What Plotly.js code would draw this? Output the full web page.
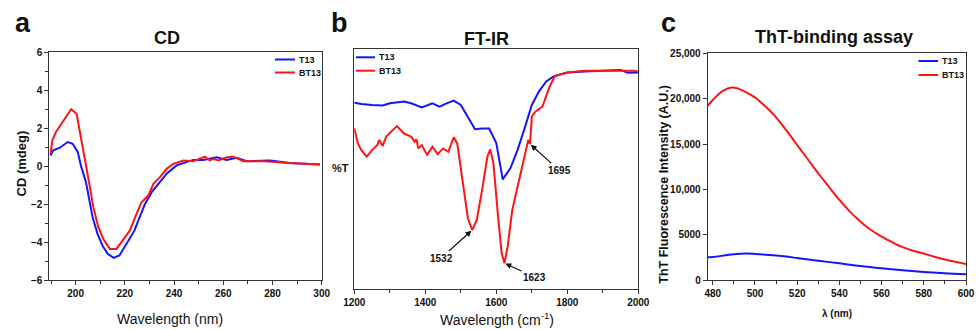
<!DOCTYPE html>
<html>
<head>
<meta charset="utf-8">
<script src="https://cdn.plot.ly/plotly-3.0.1.min.js"></script>
<style>html,body{margin:0;padding:0;background:#fff;}#chart{width:978px;height:330px;}</style>
</head>
<body>
<div id="chart"></div>
<script>
// ---------- Panel a: CD ----------
const cdX_T13 = [189.8, 190.9, 193.6, 196.8, 198.8, 200.9, 202.2, 204.2, 205.6, 206.9, 208.9, 210.9, 213, 215.5, 217.8, 219.8, 221.8, 223.9, 225.5, 228.2, 230.9, 233.6, 237, 241, 245.1, 247.8, 251.9, 257.3, 261.4, 265.4, 269.5, 279, 287, 299.3];
const cdY_T13 = [0.56, 0.83, 0.97, 1.27, 1.18, 0.74, 0, -0.84, -1.8, -2.7, -3.57, -4.18, -4.62, -4.83, -4.71, -4.27, -3.83, -3.4, -2.86, -1.99, -1.37, -0.93, -0.4, 0.04, 0.21, 0.33, 0.33, 0.47, 0.33, 0.44, 0.26, 0.3, 0.16, 0.09];
const cdX_BT13 = [189.8, 190.5, 192, 194, 196, 198.2, 200.4, 202.4, 204.6, 205.8, 207.2, 209.2, 211.3, 213.9, 216.6, 219.3, 222, 224.8, 226.8, 229.5, 231.6, 234.3, 237, 239.7, 243.8, 247.8, 252.6, 254.5, 256, 258, 261.4, 264, 268.2, 276.3, 287, 299.3];
const cdY_BT13 = [0.65, 1.35, 1.8, 2.2, 2.6, 3.0, 2.76, 1.35, -0.05, -1.1, -2.16, -3.2, -3.85, -4.36, -4.36, -3.9, -3.4, -2.5, -1.9, -1.55, -0.93, -0.58, -0.14, 0.12, 0.3, 0.26, 0.5, 0.3, 0.38, 0.3, 0.47, 0.5, 0.26, 0.26, 0.16, 0.09];

// ---------- Panel b: FT-IR ----------
const irX_T13 = [1200, 1220, 1250, 1280, 1300, 1340, 1360, 1390, 1420, 1440, 1460, 1480, 1500, 1520, 1540, 1560, 1580, 1600, 1618, 1640, 1660, 1680, 1700, 1720, 1740, 1760, 1800, 1850, 1900, 1950, 1970, 2000];
const irY_T13 = [77.7, 77.2, 76.8, 76.6, 77.5, 78.2, 77.5, 75.8, 77.5, 76.1, 77.5, 78.6, 76.8, 72, 66.7, 67, 67, 60.9, 45.8, 50.5, 58.1, 67.2, 76.8, 82.4, 86.5, 88.6, 90.3, 90.7, 91.1, 91.4, 90.2, 90.3];
const irX_BT13 = [1200, 1210, 1220, 1235, 1250, 1265, 1270, 1280, 1290, 1320, 1340, 1360, 1370, 1375, 1380, 1390, 1405, 1420, 1435, 1450, 1465, 1480, 1490, 1500, 1510, 1520, 1532, 1545, 1560, 1575, 1583, 1592, 1605, 1615, 1623, 1632, 1645, 1660, 1680, 1690, 1695, 1700, 1710, 1730, 1750, 1765, 1800, 1850, 1900, 1950, 1990, 2000];
const irY_BT13 = [67.1, 60.8, 58.0, 55.3, 58.0, 60.1, 62.2, 59.7, 63.6, 68.0, 64.9, 63.6, 61.5, 62.5, 58.7, 60.1, 56.0, 59.4, 56.3, 58.7, 57.3, 63.3, 60.8, 49.7, 38.6, 29.6, 24.7, 28.9, 41.4, 55.3, 58.3, 52.5, 30.3, 15.0, 10.9, 17.8, 33.1, 42.8, 54.6, 62.2, 60.5, 72.0, 74.0, 76.1, 84.4, 88.9, 90.3, 91.1, 91.1, 91.1, 91.1, 90.7];
const irPeaks = [1532, 1623, 1695];

// ---------- Panel c: ThT ----------
const thtX_T13 = [477.6, 480, 490, 496, 500, 510, 520, 530, 540, 550, 560, 570, 580, 590, 600];
const thtY_T13 = [2530, 2570, 2860, 2940, 2900, 2720, 2455, 2160, 1870, 1570, 1320, 1100, 920, 770, 660];
const thtX_BT13 = [477.6, 480, 485, 489, 492, 495, 500, 505, 510, 515, 520, 525, 530, 535, 540, 545, 550, 555, 560, 565, 570, 575, 580, 585, 590, 595, 600];
const thtY_BT13 = [19200, 19860, 20890, 21220, 21110, 20815, 20150, 19130, 17950, 16480, 14900, 13330, 11780, 10320, 8850, 7560, 6460, 5540, 4810, 4200, 3650, 3250, 2950, 2600, 2300, 2050, 1800];
const thtTickVals = [0, 5000, 10000, 15000, 20000, 25000];
const thtTickText = ['0', '5000', '10,000', '15,000', '20,000', '25,000'];

const seriesNames = ['T13', 'BT13'];

const BLUE = '#1414ff', RED = '#ff1414';
const seriesColors = [BLUE, RED];
const FONT = 'Liberation Sans, Arial, Helvetica, sans-serif';
const W = 978, H = 330;
const px = v => v / W;
const py = v => 1 - v / H;

function lineTrace(x, y, name, color, xa, ya, shape) {
  return {x, y, name, type: 'scatter', mode: 'lines', xaxis: xa, yaxis: ya, showlegend: false,
    line: {color, width: 2, shape: shape || 'linear'}, hoverinfo: 'skip'};
}

const traces = [
  lineTrace(cdX_T13, cdY_T13, seriesNames[0], BLUE, 'x', 'y'),
  lineTrace(cdX_BT13, cdY_BT13, seriesNames[1], RED, 'x', 'y'),
  lineTrace(irX_T13, irY_T13, seriesNames[0], BLUE, 'x2', 'y2'),
  lineTrace(irX_BT13, irY_BT13, seriesNames[1], RED, 'x2', 'y2'),
  lineTrace(thtX_T13, thtY_T13, seriesNames[0], BLUE, 'x3', 'y3', 'spline'),
  lineTrace(thtX_BT13, thtY_BT13, seriesNames[1], RED, 'x3', 'y3', 'spline')
];

const tickFont = {family: FONT, size: 10, color: '#111', weight: 'bold'};
function axisBase(extra) {
  return Object.assign({
    showline: true, mirror: true, linecolor: '#333', linewidth: 1,
    ticks: 'outside', ticklen: 4, tickcolor: '#333', tickwidth: 1,
    showgrid: false, zeroline: false, tickfont: tickFont, fixedrange: true
  }, extra);
}

function interpY(xs, ys, x) {
  for (let i = 0; i < xs.length - 1; i++) {
    if (x >= xs[i] && x <= xs[i + 1]) {
      const t = (x - xs[i]) / (xs[i + 1] - xs[i]);
      return ys[i] + t * (ys[i + 1] - ys[i]);
    }
  }
  return ys[ys.length - 1];
}

const peakOffsets = [[-31, 28], [30, 14], [29, 26]];
const peakAnnotations = irPeaks.map((p, i) => ({
  xref: 'x2', yref: 'y2', x: p, y: interpY(irX_BT13, irY_BT13, p),
  text: String(p), showarrow: true, arrowhead: 2, arrowsize: 1, arrowwidth: 1.2,
  arrowcolor: '#111', ax: peakOffsets[i][0], ay: peakOffsets[i][1], standoff: 1,
  font: {family: FONT, size: 10, color: '#111', weight: 'bold'}
}));

function txt(text, x, y, size, weight, extra) {
  return Object.assign({xref: 'paper', yref: 'paper', x: px(x), y: py(y), text, showarrow: false,
    xanchor: 'center', yanchor: 'middle',
    font: {family: FONT, size, color: '#111', weight: weight}}, extra || {});
}

// Legends (line sample + label) for each panel: [lineStart, lineEnd, textX, firstRowY, rowGap]
const legendSpots = [[275, 295, 297, 59.5, 13], [356, 375, 377, 57.3, 13.4], [918.5, 938, 939.5, 61, 14]];
const legendShapes = [];
const legendTexts = [];
legendSpots.forEach(([x0, x1, tx, y0, gap]) => {
  seriesNames.forEach((name, i) => {
    const yy = y0 + i * gap;
    legendShapes.push({type: 'line', xref: 'paper', yref: 'paper', x0: px(x0), x1: px(x1), y0: py(yy), y1: py(yy),
      line: {color: seriesColors[i], width: 2}});
    legendTexts.push(txt(name, tx, yy, 9, 'bold', {xanchor: 'left'}));
  });
});

const annotations = [
  txt('a', 22.7, 22.6, 27, 'bold'),
  txt('b', 339, 23, 27, 'bold'),
  txt('c', 668, 23, 27, 'bold'),
  txt('CD', 167, 38.1, 18, 'bold'),
  txt('FT-IR', 486.2, 38.8, 18, 'bold'),
  txt('ThT-binding assay', 833.8, 37.1, 18, 'bold'),
  txt('Wavelength (nm)', 169.5, 319.1, 14, 'normal'),
  txt('Wavelength (cm<sup>-1</sup>)', 496.7, 318.5, 14, 'normal'),
  txt('λ (nm)', 836.7, 313.8, 10, 'bold'),
  txt('CD (mdeg)', 21, 163.5, 13, 'bold', {textangle: -90}),
  txt('ThT Fluorescence Intensity (A.U.)', 663.7, 184, 12.5, 'bold', {textangle: -90}),
  txt('%T', 340, 168, 11, 'bold')
].concat(peakAnnotations, legendTexts);

const layout = {
  width: W, height: H,
  margin: {l: 0, r: 0, t: 0, b: 0},
  paper_bgcolor: '#fff', plot_bgcolor: '#fff',
  font: {family: FONT, color: '#111'},
  showlegend: false,
  xaxis: axisBase({domain: [px(49.3), px(321.7)], range: [189.3, 300], anchor: 'y',
    tick0: 200, dtick: 20, minor: {tick0: 190, dtick: 10, ticks: 'outside', ticklen: 3, tickcolor: '#333'}}),
  yaxis: axisBase({domain: [py(280), py(52.3)], range: [-6, 6], anchor: 'x',
    tick0: -6, dtick: 2, minor: {tick0: -6, dtick: 1, ticks: 'outside', ticklen: 3, tickcolor: '#333'}}),
  xaxis2: axisBase({domain: [px(354.3), px(638.3)], range: [1200, 2000], anchor: 'y2',
    tick0: 1200, dtick: 200, minor: {tick0: 1200, dtick: 100, ticks: 'outside', ticklen: 3, tickcolor: '#333'}}),
  yaxis2: axisBase({domain: [py(289.3), py(49.3)], range: [0, 100], anchor: 'x2',
    ticks: '', showticklabels: false}),
  xaxis3: axisBase({domain: [px(707.7), px(966)], range: [477.6, 600], anchor: 'y3',
    tick0: 480, dtick: 20, minor: {tick0: 480, dtick: 10, ticks: 'outside', ticklen: 3, tickcolor: '#333'}}),
  yaxis3: axisBase({domain: [py(280.3), py(53.3)], range: [0, 25000], anchor: 'x3',
    tickmode: 'array', tickvals: thtTickVals, ticktext: thtTickText}),
  shapes: legendShapes,
  annotations
};

Plotly.newPlot('chart', traces, layout, {staticPlot: true, displayModeBar: false});
</script>
</body>
</html>
